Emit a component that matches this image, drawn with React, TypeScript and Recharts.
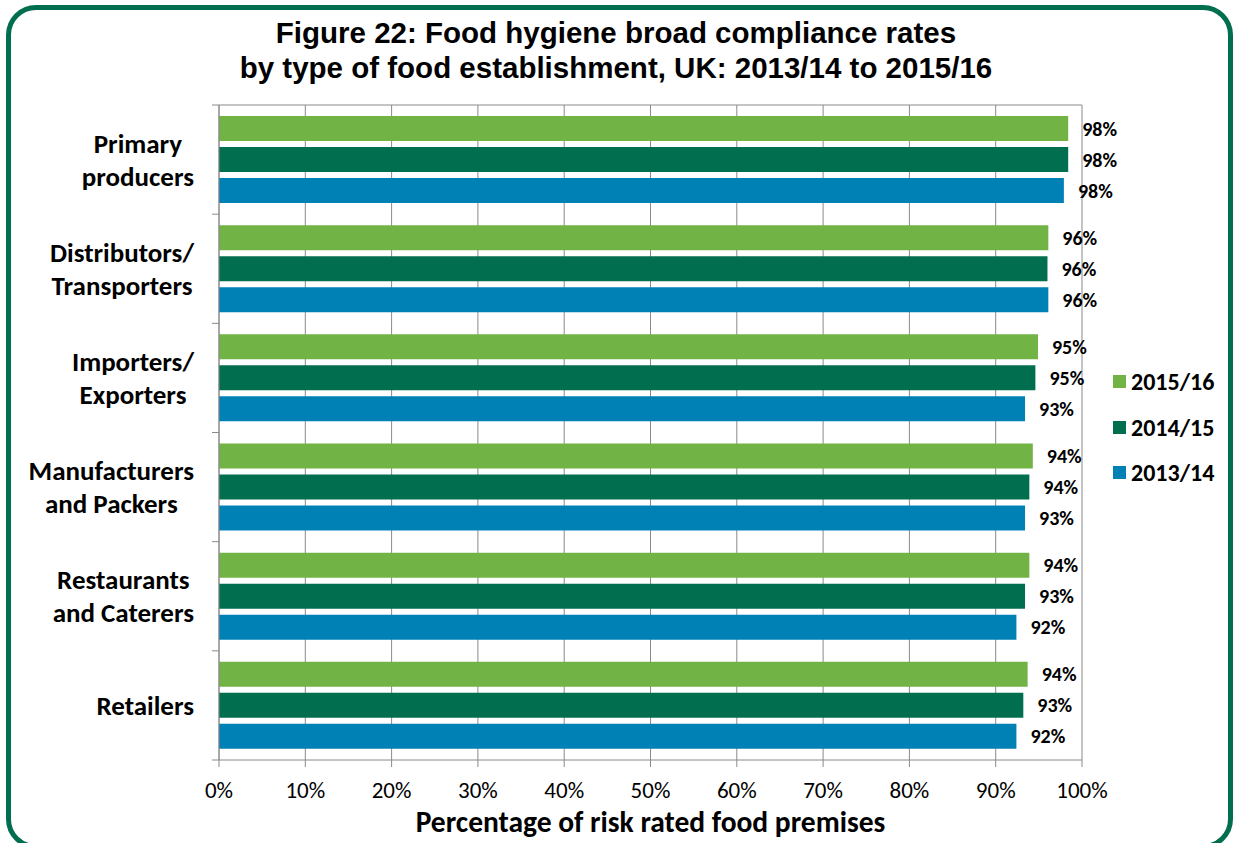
import React from 'react';
import {
  BarChart, Bar, XAxis, YAxis, CartesianGrid, LabelList, Label,
} from 'recharts';

const categories = [
  'Primary\nproducers',
  'Distributors/\nTransporters',
  'Importers/\nExporters',
  'Manufacturers\nand Packers',
  'Restaurants\nand Caterers',
  'Retailers',
];
const rate201516 = [98.4, 96.1, 94.9, 94.3, 93.9, 93.7];
const rate201415 = [98.4, 96.0, 94.6, 93.9, 93.4, 93.2];
const rate201314 = [97.9, 96.1, 93.4, 93.4, 92.4, 92.4];
const xTicks = [0, 10, 20, 30, 40, 50, 60, 70, 80, 90, 100];

const series = [
  { key: 'y1516', name: '2015/16', color: '#71b345' },
  { key: 'y1415', name: '2014/15', color: '#006e4f' },
  { key: 'y1314', name: '2013/14', color: '#0081b5' },
];

const data = categories.map((c, i) => ({
  category: c,
  y1516: rate201516[i],
  y1415: rate201415[i],
  y1314: rate201314[i],
}));

const W = 1234;
const H = 843;
const TOP = 105;
const BOTTOM = 83;
const AXIS_W = 219;
const RIGHT = 152;
const band = (H - TOP - BOTTOM) / categories.length;
const FONT = 'Carlito, Lato, "Open Sans", sans-serif';
const GREY = '#8a8a8a';
const CAT_FONT = `bold 27px ${FONT}`;

let ctx: CanvasRenderingContext2D | null = null;
function textWidth(s: string, font: string) {
  if (!ctx) ctx = document.createElement('canvas').getContext('2d');
  if (!ctx) return s.length * 13;
  ctx.font = font;
  return ctx.measureText(s).width;
}

// category labels: lines centred on each other, block right-aligned like Excel
function CategoryTick(props: any) {
  const { y, payload, index } = props;
  const lines = String(payload.value).split('\n');
  const maxW = Math.max(...lines.map((l) => textWidth(l, CAT_FONT)));
  const cx = 194 - maxW / 2;
  const lh = 33;
  return (
    <g>
      <line x1={AXIS_W - 7} x2={AXIS_W} y1={y - band / 2} y2={y - band / 2} stroke={GREY} />
      {index === categories.length - 1 && (
        <line x1={AXIS_W - 7} x2={AXIS_W} y1={y + band / 2} y2={y + band / 2} stroke={GREY} />
      )}
      {lines.map((l, i) => (
        <text
          key={i}
          x={cx}
          y={y + (i - (lines.length - 1) / 2) * lh}
          textAnchor="middle"
          dominantBaseline="central"
          style={{ font: CAT_FONT, fill: '#000' }}
        >
          {l}
        </text>
      ))}
    </g>
  );
}

export default function App() {
  return (
    <div style={{ position: 'absolute', left: 0, top: 0, width: W, height: H, overflow: 'hidden', background: '#fff' }}>
      <div
        style={{
          position: 'absolute', left: 6, top: 5, width: 1217, height: 834,
          border: '5px solid #006e4f', borderRadius: 30,
        }}
      />
      <div
        style={{
          position: 'absolute', left: 0, top: 15, width: 1232, textAlign: 'center',
          fontFamily: '"Liberation Sans", Arial, sans-serif', fontWeight: 'bold', fontSize: 29.5, lineHeight: '35px', color: '#000',
        }}
      >
        Figure 22: Food hygiene broad compliance rates
        <br />
        by type of food establishment, UK: 2013/14 to 2015/16
      </div>
      <div
        style={{
          position: 'absolute', left: 1113, top: 359,
          fontFamily: FONT, fontWeight: 'bold', fontSize: 24, color: '#000',
        }}
      >
        {series.map((s) => (
          <div key={s.key} style={{ display: 'flex', alignItems: 'center', height: 45.5 }}>
            <span style={{ display: 'inline-block', width: 13, height: 13, background: s.color, marginRight: 5 }} />
            <span>{s.name}</span>
          </div>
        ))}
      </div>
      <div style={{ position: 'absolute', left: 0, top: 0 }}>
        <BarChart
          width={W}
          height={H}
          data={data}
          layout="vertical"
          margin={{ top: TOP, right: RIGHT, bottom: 0, left: 0 }}
          barGap={6}
          barSize={25}
        >
          <CartesianGrid
            stroke={GREY}
            horizontal
            vertical
            horizontalCoordinatesGenerator={() => [TOP]}
          />
          <XAxis
            type="number"
            domain={[0, 100]}
            ticks={xTicks}
            tickFormatter={(v) => `${v}%`}
            height={BOTTOM}
            tickSize={7}
            tickMargin={15}
            axisLine={{ stroke: GREY }}
            tickLine={{ stroke: GREY }}
            tick={{ fill: '#000', fontSize: 23, fontFamily: FONT }}
          >
            <Label
              value="Percentage of risk rated food premises"
              position="insideBottom"
              offset={11}
              style={{ fontFamily: FONT, fontWeight: 'bold', fontSize: 29.5, fill: '#000' }}
            />
          </XAxis>
          <YAxis
            type="category"
            dataKey="category"
            width={AXIS_W}
            axisLine={{ stroke: GREY }}
            tickLine={false}
            tick={<CategoryTick />}
            interval={0}
          />
          {series.map((s) => (
            <Bar key={s.key} dataKey={s.key} name={s.name} fill={s.color} isAnimationActive={false}>
              <LabelList
                dataKey={s.key}
                position="right"
                offset={14}
                formatter={(v: any) => `${Math.round(Number(v))}%`}
                style={{ fontFamily: FONT, fontWeight: 'bold', fontSize: 20, fill: '#000' }}
              />
            </Bar>
          ))}
        </BarChart>
      </div>
    </div>
  );
}
